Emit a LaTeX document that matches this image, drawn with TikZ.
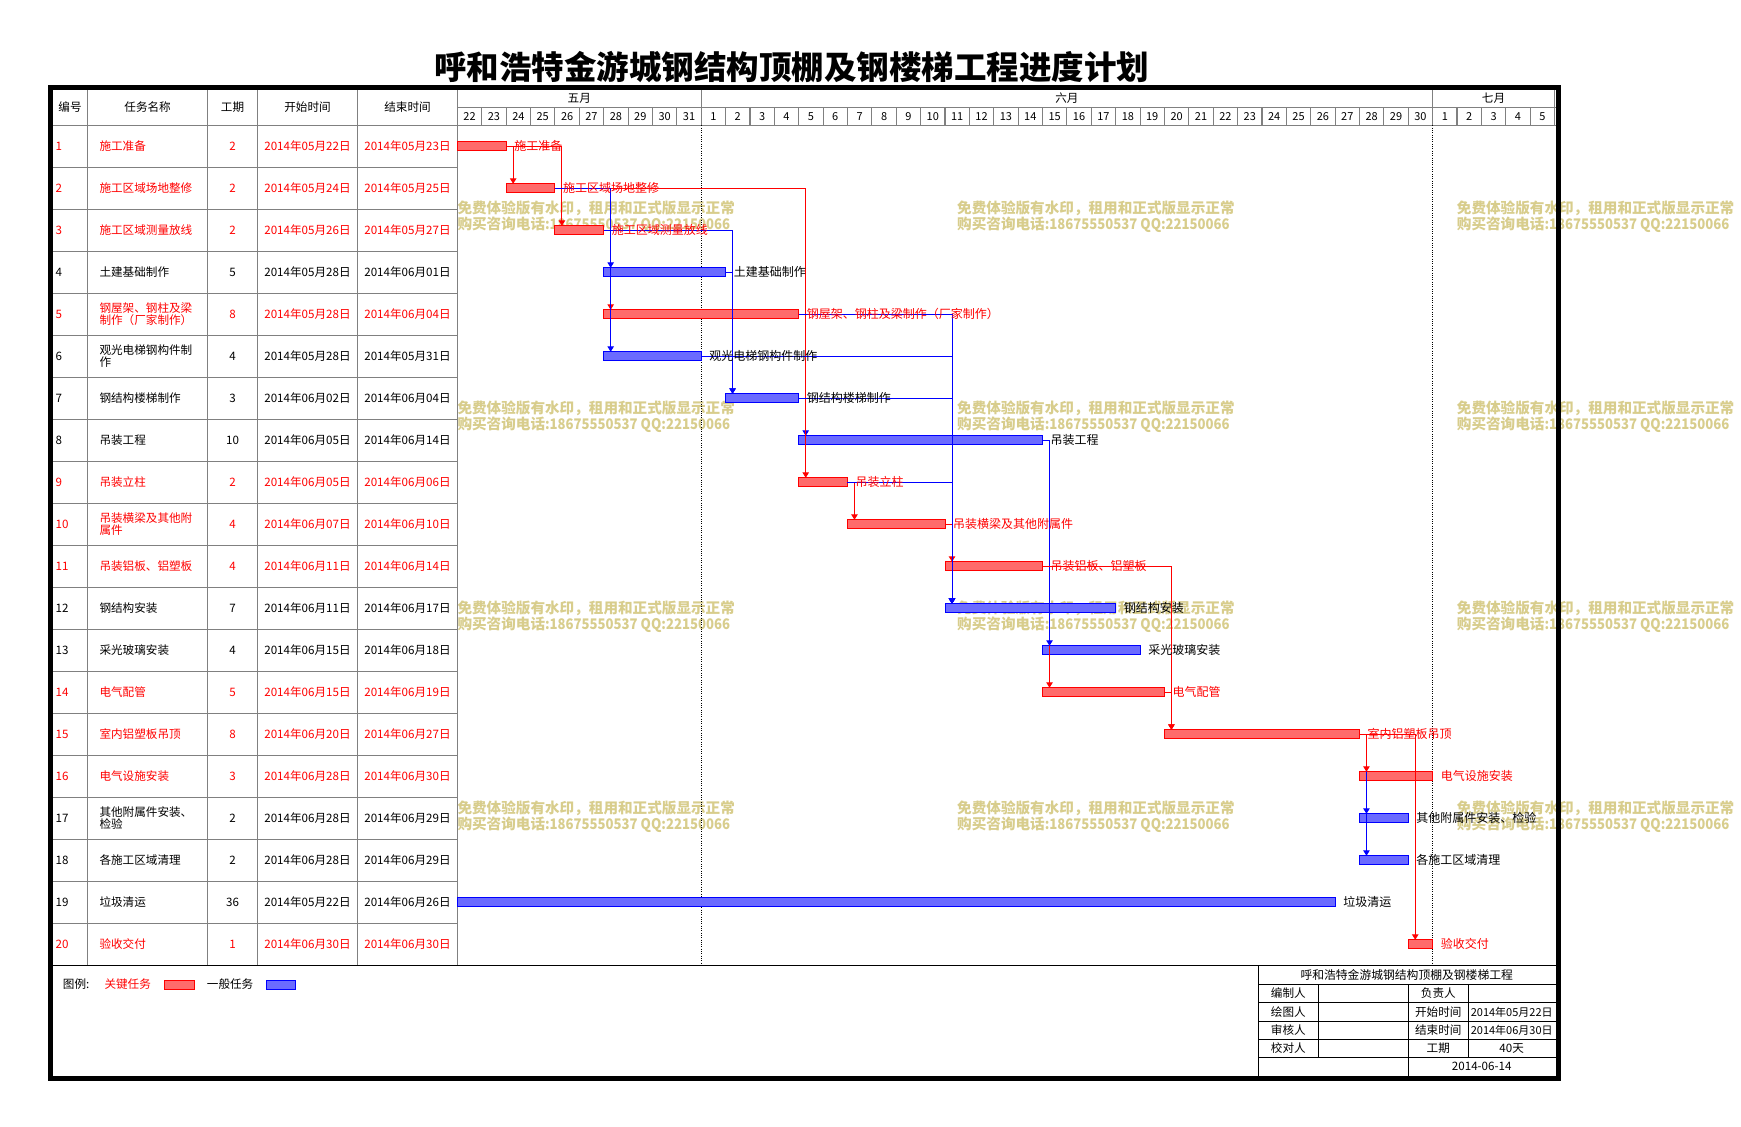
\documentclass[tikz,border=0pt]{standalone}
\usepackage{fontspec}
\setmainfont{Noto Sans CJK SC}
\usetikzlibrary{arrows.meta}
\definecolor{wmk}{RGB}{216,205,140}
\definecolor{gridc}{RGB}{128,128,128}
\newcommand\gbar[5]{%
  \pgfmathsetmacro\gbx{457.4+24.38*#4}%
  \pgfmathsetmacro\gbw{24.38*(#5-#4)}%
  \pgfmathsetmacro\gby{146.3+42*(#3-1)}%
  \node[#2, anchor=west, minimum width=\gbw pt] (#1) at (\gbx,\gby) {};}
\begin{document}
\begin{tikzpicture}[x=1pt,y=-1pt,
  critbar/.style={rectangle, draw=red, line width=1pt, fill=red!58, minimum height=9pt, inner sep=0pt, outer sep=0pt},
  normbar/.style={rectangle, draw=blue, line width=1pt, fill=blue!58, minimum height=9pt, inner sep=0pt, outer sep=0pt},
  rlink/.style={draw=red, line width=1pt, -{Triangle[length=5.5pt,width=6.5pt]}},
  blink/.style={draw=blue, line width=1pt, -{Triangle[length=5.5pt,width=6.5pt]}},
  gridl/.style={draw=gridc, line width=1.1pt},
  blk/.style={draw=black, line width=1pt},
  tx/.style={inner sep=0pt, font=\fontsize{11.6}{11.5}\selectfont},
  dtx/.style={inner sep=0pt, font=\fontsize{11}{11}\selectfont},
  lbl/.style={inner sep=0pt, anchor=west, font=\fontsize{12}{12}\selectfont},
  wm/.style={inner sep=0pt, anchor=west, text=wmk, font=\fontsize{14.6}{15}\selectfont\bfseries},
  dotl/.style={draw=black, line width=0.9pt, dash pattern=on 1pt off 1.3pt}
]
\useasboundingbox (0,0) rectangle (1741,1127);
\fill[white] (0,0) rectangle (1741,1127);

% watermarks
\foreach \wx [count=\a] in {457.3,957,1456.7}{
  \foreach \wy [count=\b] in {208,408,608,808}{
    \node[wm] (wa\a\b) at (\wx,\wy) {免费体验版有水印，租用和正式版显示正常};
    \node[wm] (wb\a\b) at (\wx,\wy+17) {购买咨询电话\scalebox{0.9}[1]{:18675550537 QQ:22150066}};
  }
}

% title
\node[inner sep=0pt, font=\fontsize{32.5}{36}\selectfont\bfseries] (title) at (791.5,66.6) {呼和浩特金游城钢结构顶棚及钢楼梯工程进度计划};

% table grid
\foreach \k in {0,...,19}{
  \draw[gridl] (52.8,{125.3+42*\k}) -- (457.4,{125.3+42*\k});
}
\draw[gridl] (457.4,125.3) -- (1555.5,125.3);
\draw[gridl] (457.4,107.7) -- (1555.5,107.7);
\foreach \cx in {87.7,207.5,257.5,357.5,457.4}{
  \draw[gridl] (\cx,90) -- (\cx,965.5);
}
\foreach \i in {1,...,44}{
  \draw[gridl] ({457.4+24.38*\i},107.7) -- ({457.4+24.38*\i},125.3);
}
\draw[gridl] (701.2,90) -- (701.2,107.7);
\draw[gridl] (1432.6,90) -- (1432.6,107.7);
\draw[gridl] (1554.6,90) -- (1554.6,125.3);

% month boundaries (dotted)
\draw[dotl] (701.2,125.3) -- (701.2,965.5);
\draw[dotl] (1432.6,125.3) -- (1432.6,965.5);

% header texts
\node[tx] (h1) at (70,107.3) {编号};
\node[tx] (h2) at (147.6,107.3) {任务名称};
\node[tx] (h3) at (232.5,107.3) {工期};
\node[tx] (h4) at (307.5,107.3) {开始时间};
\node[tx] (h5) at (407.5,107.3) {结束时间};
\node[tx] (m1) at (579.3,98.4) {五月};
\node[tx] (m2) at (1066.9,98.4) {六月};
\node[tx] (m3) at (1493.5,98.4) {七月};
\foreach \i in {0,...,44}{
  \pgfmathtruncatemacro\dn{\i<10 ? \i+22 : (\i<40 ? \i-9 : \i-39)}
  \node[dtx] (dy\i) at ({457.4+24.38*(\i+0.5)},116.3) {\dn};
}

% table rows
\foreach \n/\tnm/\tdur/\sdt/\edt/\tcol in {
1/施工准备/2/05月22日/05月23日/red,
2/施工区域场地整修/2/05月24日/05月25日/red,
3/施工区域测量放线/2/05月26日/05月27日/red,
4/土建基础制作/5/05月28日/06月01日/black,
5/{钢屋架、钢柱及梁\\制作（厂家制作）}/8/05月28日/06月04日/red,
6/{观光电梯钢构件制\\作}/4/05月28日/05月31日/black,
7/钢结构楼梯制作/3/06月02日/06月04日/black,
8/吊装工程/10/06月05日/06月14日/black,
9/吊装立柱/2/06月05日/06月06日/red,
10/{吊装横梁及其他附\\属件}/4/06月07日/06月10日/red,
11/吊装铝板、铝塑板/4/06月11日/06月14日/red,
12/钢结构安装/7/06月11日/06月17日/black,
13/采光玻璃安装/4/06月15日/06月18日/black,
14/电气配管/5/06月15日/06月19日/red,
15/室内铝塑板吊顶/8/06月20日/06月27日/red,
16/电气设施安装/3/06月28日/06月30日/red,
17/{其他附属件安装、\\检验}/2/06月28日/06月29日/black,
18/各施工区域清理/2/06月28日/06月29日/black,
19/垃圾清运/36/05月22日/06月26日/black,
20/验收交付/1/06月30日/06月30日/red}{
  \pgfmathsetmacro\ry{146.3+42*(\n-1)}
  \node[tx,anchor=west,text=\tcol] (no\n) at (55.5,\ry) {\n};
  \node[tx,anchor=west,text=\tcol,align=left] (nm\n) at (99.3,\ry) {\tnm};
  \node[tx,text=\tcol] (du\n) at (232.5,\ry) {\tdur};
  \node[tx,text=\tcol] (st\n) at (307.5,\ry) {2014年\sdt};
  \node[tx,text=\tcol] (en\n) at (407.5,\ry) {2014年\edt};
}

% bars
\gbar{b1}{critbar}{1}{0}{2}
\gbar{b2}{critbar}{2}{2}{4}
\gbar{b3}{critbar}{3}{4}{6}
\gbar{b4}{normbar}{4}{6}{11}
\gbar{b5}{critbar}{5}{6}{14}
\gbar{b6}{normbar}{6}{6}{10}
\gbar{b7}{normbar}{7}{11}{14}
\gbar{b8}{normbar}{8}{14}{24}
\gbar{b9}{critbar}{9}{14}{16}
\gbar{b10}{critbar}{10}{16}{20}
\gbar{b11}{critbar}{11}{20}{24}
\gbar{b12}{normbar}{12}{20}{27}
\gbar{b13}{normbar}{13}{24}{28}
\gbar{b14}{critbar}{14}{24}{29}
\gbar{b15}{critbar}{15}{29}{37}
\gbar{b16}{critbar}{16}{37}{40}
\gbar{b17}{normbar}{17}{37}{39}
\gbar{b18}{normbar}{18}{37}{39}
\gbar{b19}{normbar}{19}{0}{36}
\gbar{b20}{critbar}{20}{39}{40}

% links
\draw[rlink] (b1.east) -| ([xshift=7pt]b2.north west);
\draw[rlink] (b1.east) -| ([xshift=7pt]b3.north west);
\draw[blink] (b2.east) -| ([xshift=7pt]b8.north west);
\draw[rlink] (b2.east) -| ([xshift=7pt]b9.north west);
\draw[rlink] (b2.east) -| ([xshift=7pt]b5.north west);
\draw[blink] (b2.east) -| ([xshift=7pt]b4.north west);
\draw[blink] (b2.east) -| ([xshift=7pt]b6.north west);
\draw[blink] (b3.east) -| ([xshift=7pt]b7.north west);
\draw[blink] (b4.east) -| ([xshift=7pt]b7.north west);
\draw[rlink] (b9.east) -| ([xshift=7pt]b10.north west);
\draw[rlink] (b10.east) -| ([xshift=7pt]b11.north west);
\draw[blink] (b5.east) -| ([xshift=7pt]b12.north west);
\draw[blink] (b6.east) -| ([xshift=7pt]b12.north west);
\draw[blink] (b7.east) -| ([xshift=7pt]b12.north west);
\draw[blink] (b9.east) -| ([xshift=7pt]b12.north west);
\draw[rlink] (b11.east) -| ([xshift=7pt]b14.north west);
\draw[blink] (b8.east) -| ([xshift=7pt]b13.north west);
\draw[rlink] (b11.east) -| ([xshift=7pt]b15.north west);
\draw[rlink] (b14.east) -| ([xshift=7pt]b15.north west);
\draw[blink] (b15.east) -| ([xshift=7pt]b17.north west);
\draw[blink] (b15.east) -| ([xshift=7pt]b18.north west);
\draw[rlink] (b15.east) -| ([xshift=7pt]b16.north west);
\draw[rlink] (b15.east) -| ([xshift=7pt]b20.north west);

% bar labels
\node[lbl,text=red] (l1) at ([xshift=8pt]b1.east) {施工准备};
\node[lbl,text=red] (l2) at ([xshift=8pt]b2.east) {施工区域场地整修};
\node[lbl,text=red] (l3) at ([xshift=8pt]b3.east) {施工区域测量放线};
\node[lbl] (l4) at ([xshift=8pt]b4.east) {土建基础制作};
\node[lbl,text=red] (l5) at ([xshift=8pt]b5.east) {钢屋架、钢柱及梁制作（厂家制作）};
\node[lbl] (l6) at ([xshift=8pt]b6.east) {观光电梯钢构件制作};
\node[lbl] (l7) at ([xshift=8pt]b7.east) {钢结构楼梯制作};
\node[lbl] (l8) at ([xshift=8pt]b8.east) {吊装工程};
\node[lbl,text=red] (l9) at ([xshift=8pt]b9.east) {吊装立柱};
\node[lbl,text=red] (l10) at ([xshift=8pt]b10.east) {吊装横梁及其他附属件};
\node[lbl,text=red] (l11) at ([xshift=8pt]b11.east) {吊装铝板、铝塑板};
\node[lbl] (l12) at ([xshift=8pt]b12.east) {钢结构安装};
\node[lbl] (l13) at ([xshift=8pt]b13.east) {采光玻璃安装};
\node[lbl,text=red] (l14) at ([xshift=8pt]b14.east) {电气配管};
\node[lbl,text=red] (l15) at ([xshift=8pt]b15.east) {室内铝塑板吊顶};
\node[lbl,text=red] (l16) at ([xshift=8pt]b16.east) {电气设施安装};
\node[lbl] (l17) at ([xshift=8pt]b17.east) {其他附属件安装、检验};
\node[lbl] (l18) at ([xshift=8pt]b18.east) {各施工区域清理};
\node[lbl] (l19) at ([xshift=8pt]b19.east) {垃圾清运};
\node[lbl,text=red] (l20) at ([xshift=8pt]b20.east) {验收交付};

% bottom line of table
\draw[draw=black, line width=1.5pt] (52.8,965.5) -- (1555.5,965.5);

% legend
\node[tx,anchor=west] (lg0) at (62.7,984.3) {图例:};
\node[tx,anchor=west,text=red] (lg1) at (104.3,984.3) {关键任务};
\node[critbar,anchor=west,minimum width=30pt] (lgr) at (164,984.6) {};
\node[tx,anchor=west] (lg2) at (206.7,984.3) {一般任务};
\node[normbar,anchor=west,minimum width=29.7pt] (lgb) at (266,984.6) {};

% info box
\draw[blk] (1258.3,965.5) -- (1258.3,1075.5);
\foreach \hy in {984.3,1002.7,1021,1039.3,1057.3}{
  \draw[blk] (1258.3,\hy) -- (1555.5,\hy);
}
\draw[blk] (1318.3,984.3) -- (1318.3,1057.3);
\draw[blk] (1468.3,984.3) -- (1468.3,1057.3);
\draw[blk] (1408.3,984.3) -- (1408.3,1075.5);
\node[tx,font=\fontsize{11.8}{12}\selectfont] (ib0) at (1406.7,975.2) {呼和浩特金游城钢结构顶棚及钢楼梯工程};
\node[tx] (ia1) at (1288.3,993.5) {编制人};
\node[tx] (ia2) at (1288.3,1011.8) {绘图人};
\node[tx] (ia3) at (1288.3,1030.2) {审核人};
\node[tx] (ia4) at (1288.3,1048.3) {校对人};
\node[tx] (ic1) at (1438.3,993.5) {负责人};
\node[tx] (ic2) at (1438.3,1011.8) {开始时间};
\node[tx] (ic3) at (1438.3,1030.2) {结束时间};
\node[tx] (ic4) at (1438.3,1048.3) {工期};
\node[tx,font=\fontsize{11}{11}\selectfont] (id2) at (1511.7,1011.8) {2014年05月22日};
\node[tx,font=\fontsize{11}{11}\selectfont] (id3) at (1511.7,1030.2) {2014年06月30日};
\node[tx] (id4) at (1511.7,1048.3) {40天};
\node[tx] (ie) at (1481.7,1066.2) {2014-06-14};

% outer border
\draw[draw=black, line width=5pt] (50.3,87.5) rectangle (1558,1078);
\end{tikzpicture}
\end{document}
